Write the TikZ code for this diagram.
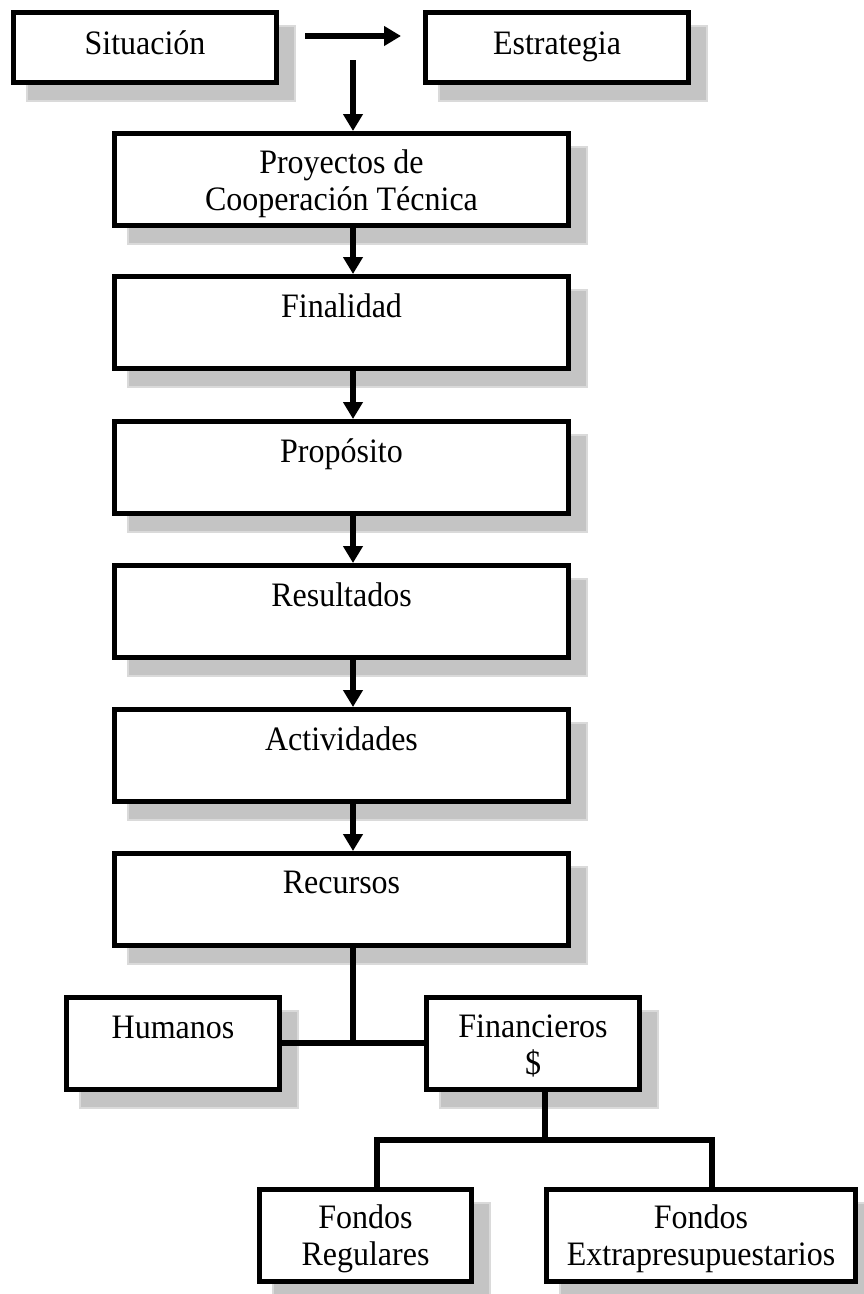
\documentclass[tikz,border=0pt]{standalone}
\usepackage{fontspec}
\setmainfont{Liberation Serif}
\usetikzlibrary{arrows.meta,backgrounds}

\definecolor{shadowgray}{RGB}{196,196,196}
\definecolor{shadowrim}{RGB}{218,218,218}

% slightly tall lettering, one or two centred lines
\newcommand{\tallline}[1]{\scalebox{1}[1.07]{#1}}
\newcommand{\twolines}[2]{\scalebox{1}[1.07]{\begin{tabular}[t]{@{}c@{}}#1\\#2\end{tabular}}}

\begin{document}
\begin{tikzpicture}[x=1pt,y=-1pt,
  box/.style={rectangle, draw=black, fill=white, line width=5pt, inner sep=0pt},
  midbox/.style={box, minimum width=454pt, minimum height=92pt},
  lbl/.style={anchor=base, inner sep=0pt, font=\fontsize{32}{35}\selectfont},
  link/.style={line width=5.5pt},
  arr/.style={line width=6pt, -{Triangle[length=17pt,width=19pt]}},
  shadowbox/.style={fill=shadowgray, draw=shadowrim, line width=1.2pt}
]
\useasboundingbox (0,0) rectangle (864,1294);

% top row
\node[box, minimum width=263pt, minimum height=70pt] (sit) at (145,47.5) {};
\node[box, minimum width=263pt, minimum height=70pt] (est) at (557,47.5) {};

% main column
\node[midbox] (proy) at (341.5,179.5) {};
\node[midbox] (fin)  at (341.5,322.5) {};
\node[midbox] (prop) at (341.5,467.5) {};
\node[midbox] (res)  at (341.5,611.5) {};
\node[midbox] (act)  at (341.5,755.5) {};
\node[midbox] (rec)  at (341.5,899.5) {};

% resources
\node[box, minimum width=213pt, minimum height=92pt] (hum)   at (173,1043.5) {};
\node[box, minimum width=213pt, minimum height=92pt] (finan) at (533,1043.5) {};
\node[box, minimum width=212pt, minimum height=92pt] (freg)  at (365.5,1235.5) {};
\node[box, minimum width=309pt, minimum height=92pt] (fext)  at (701,1235.5) {};

% labels
\node[lbl] (tsit) at ([shift={(0,44)}]sit.north) {\tallline{Situación}};
\node[lbl] (test) at ([shift={(0,44)}]est.north) {\tallline{Estrategia}};
\node[lbl] (tproy) at ([shift={(0,42)}]proy.north) {\twolines{Proyectos de}{Cooperación Técnica}};
\node[lbl] (tfin)  at ([shift={(0,43)}]fin.north)  {\tallline{Finalidad}};
\node[lbl] (tprop) at ([shift={(0,43)}]prop.north) {\tallline{Propósito}};
\node[lbl] (tres)  at ([shift={(0,43)}]res.north)  {\tallline{Resultados}};
\node[lbl] (tact)  at ([shift={(0,43)}]act.north)  {\tallline{Actividades}};
\node[lbl] (trec)  at ([shift={(0,42)}]rec.north)  {\tallline{Recursos}};
\node[lbl] (thum)  at ([shift={(0,43)}]hum.north)  {\tallline{Humanos}};
\node[lbl] (tfinan) at ([shift={(0,42)}]finan.north) {\twolines{Financieros}{\$}};
\node[lbl] (tfreg) at ([shift={(0,41)}]freg.north) {\twolines{Fondos}{Regulares}};
\node[lbl] (tfext) at ([shift={(0,41)}]fext.north) {\twolines{Fondos}{Extrapresupuestarios}};

% arrows
\coordinate (h1) at (305,36);
\coordinate (h2) at (401,36);
\coordinate (v1) at (353,60);
\draw[arr] (h1) -- (h2);
\draw[arr] (v1) -- (v1 |- proy.north);
\draw[arr] (proy.south -| v1) -- (fin.north -| v1);
\draw[arr] (fin.south -| v1)  -- (prop.north -| v1);
\draw[arr] (prop.south -| v1) -- (res.north -| v1);
\draw[arr] (res.south -| v1)  -- (act.north -| v1);
\draw[arr] (act.south -| v1)  -- (rec.north -| v1);

% tree below the resources box
\coordinate (j1) at (353,1043);
\coordinate (j2) at (545,1140);
\coordinate (bl) at (377,1140);
\coordinate (br) at (712,1140);
\draw[link] (rec.south -| j1) -- (j1);
\draw[link] (hum.east |- j1) -- (finan.west |- j1);
\draw[link] (finan.south -| j2) -- (j2);
\draw[link] (freg.north -| bl) -- (bl) -- (br) -- (fext.north -| br);

% drop shadows
\begin{scope}[on background layer]
  \foreach \n in {sit,est,proy,fin,prop,res,act,rec,hum,finan,freg,fext}
    \path[shadowbox] ([shift={(16,16)}]\n.north west) rectangle ([shift={(16,16)}]\n.south east);
\end{scope}
\end{tikzpicture}
\end{document}
